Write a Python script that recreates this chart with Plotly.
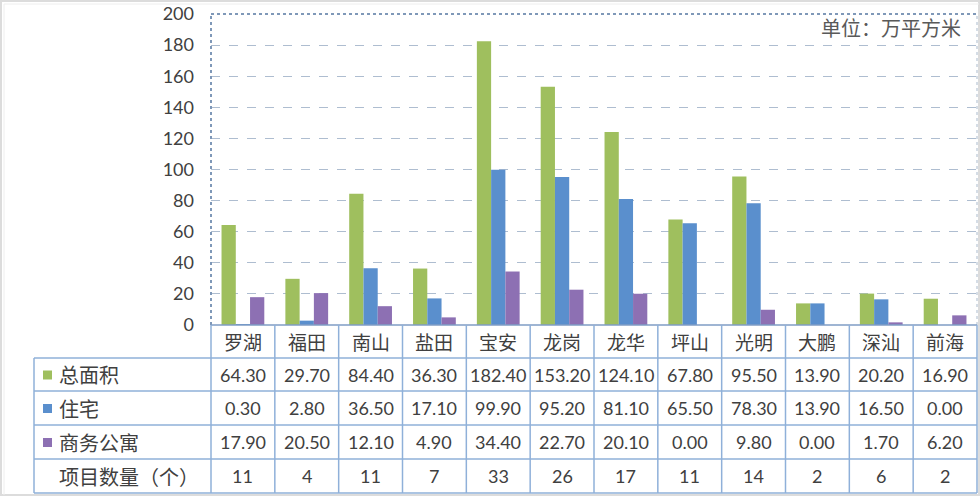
import plotly.graph_objects as go

categories = ["罗湖", "福田", "南山", "盐田", "宝安", "龙岗", "龙华", "坪山", "光明", "大鹏", "深汕", "前海"]
total_area = [64.30, 29.70, 84.40, 36.30, 182.40, 153.20, 124.10, 67.80, 95.50, 13.90, 20.20, 16.90]
residential = [0.30, 2.80, 36.50, 17.10, 99.90, 95.20, 81.10, 65.50, 78.30, 13.90, 16.50, 0.00]
commercial_apt = [17.90, 20.50, 12.10, 4.90, 34.40, 22.70, 20.10, 0.00, 9.80, 0.00, 1.70, 6.20]
project_count = [11, 4, 11, 7, 33, 26, 17, 11, 14, 2, 6, 2]
series_names = ["总面积", "住宅", "商务公寓"]
count_label = "项目数量（个）"
unit_label = "单位：万平方米"
y_ticks = [0, 20, 40, 60, 80, 100, 120, 140, 160, 180, 200]

colors = ["#9fbf5e", "#5a8fcd", "#8d70b3"]
W, H = 980, 496
CJK = "Noto Sans CJK SC"
NUM = "Lato"
TXT = "#404040"
TLINE = "#8fb0d9"


def px(x):
    return x / W


def py(y):
    return 1 - y / H


PL, PR, PT, PB = 211, 977, 14, 325
TL = 34
row_edges = [325, 358, 391, 425, 459, 493]

fig = go.Figure()
series_values = [total_area, residential, commercial_apt]
for name, vals, c in zip(series_names, series_values, colors):
    fig.add_trace(go.Bar(x=categories, y=vals, name=name, marker=dict(color=c, line=dict(width=0)),
                         showlegend=False))

shapes = []
# frame
shapes.append(dict(type="rect", xref="paper", yref="paper", x0=px(1), x1=px(979), y0=py(495), y1=py(1),
                   line=dict(color="#dcdcdc", width=2)))
shapes.append(dict(type="line", xref="paper", yref="paper", x0=px(4), x1=px(979), y0=py(4), y1=py(4),
                   line=dict(color="#eeeeee", width=1)))
shapes.append(dict(type="line", xref="paper", yref="paper", x0=px(4), x1=px(4), y0=py(495), y1=py(4),
                   line=dict(color="#eeeeee", width=1)))
# plot borders (dotted)
border = dict(color="#7f98b8", width=2, dash="dot")
shapes.append(dict(type="line", xref="paper", yref="paper", x0=px(PL), x1=px(PL), y0=py(PB), y1=py(PT), line=border))
shapes.append(dict(type="line", xref="paper", yref="paper", x0=px(PL), x1=px(PR), y0=py(PT), y1=py(PT), line=border))
shapes.append(dict(type="line", xref="paper", yref="paper", x0=px(PR), x1=px(PR), y0=py(PB), y1=py(PT),
                   line=dict(color="#c8d2de", width=1.5, dash="dot")))
# table lines
tl = dict(color=TLINE, width=1.5)
shapes.append(dict(type="line", xref="paper", yref="paper", x0=px(PL), x1=px(PR), y0=py(row_edges[0]),
                   y1=py(row_edges[0]), line=dict(color="#7f9cc4", width=1.5)))
for ry in row_edges[1:]:
    shapes.append(dict(type="line", xref="paper", yref="paper", x0=px(TL), x1=px(PR), y0=py(ry), y1=py(ry), line=tl))
shapes.append(dict(type="line", xref="paper", yref="paper", x0=px(TL), x1=px(TL), y0=py(row_edges[-1]),
                   y1=py(row_edges[1]), line=tl))
shapes.append(dict(type="line", xref="paper", yref="paper", x0=px(PL), x1=px(PL), y0=py(row_edges[-1]),
                   y1=py(row_edges[0]), line=tl))
shapes.append(dict(type="line", xref="paper", yref="paper", x0=px(PR), x1=px(PR), y0=py(row_edges[-1]),
                   y1=py(row_edges[0]), line=tl))
for i in range(len(categories) - 1):
    shapes.append(dict(type="line", xref="x", yref="paper", x0=i + 0.5, x1=i + 0.5, y0=py(row_edges[-1]),
                       y1=py(row_edges[0]), line=tl))
# legend keys
for k, c in enumerate(colors):
    cy = (row_edges[k + 1] + row_edges[k + 2]) / 2
    shapes.append(dict(type="rect", xref="paper", yref="paper", x0=px(43), x1=px(52), y0=py(cy + 5), y1=py(cy - 4),
                       fillcolor=c, line=dict(width=0)))

ann = []
cy0 = (row_edges[0] + row_edges[1]) / 2
for cat in categories:
    ann.append(dict(x=cat, xref="x", y=py(cy0), yref="paper", text=cat, showarrow=False, xanchor="center",
                    yanchor="middle", font=dict(family=CJK, size=19, color=TXT)))
row_values = [[f"{v:.2f}" for v in total_area], [f"{v:.2f}" for v in residential],
              [f"{v:.2f}" for v in commercial_apt], [str(v) for v in project_count]]
row_labels = series_names + [count_label]
for r, (lab, vals) in enumerate(zip(row_labels, row_values)):
    cy = (row_edges[r + 1] + row_edges[r + 2]) / 2
    ann.append(dict(x=px(57), xref="paper", y=py(cy), yref="paper", text=lab, showarrow=False, xanchor="left",
                    yanchor="middle", font=dict(family=CJK, size=20, color=TXT)))
    for cat, v in zip(categories, vals):
        ann.append(dict(x=cat, xref="x", y=py(cy), yref="paper", text=v, showarrow=False, xanchor="center",
                        yanchor="middle", font=dict(family=NUM, size=18, color=TXT)))
ann.append(dict(x=px(963), xref="paper", y=py(27), yref="paper", text=unit_label, showarrow=False,
                xanchor="right", yanchor="middle", font=dict(family=CJK, size=20, color="#595959")))

fig.update_layout(
    width=W, height=H, autosize=False, margin=dict(l=0, r=0, t=0, b=0, pad=0),
    paper_bgcolor="white", plot_bgcolor="white",
    barmode="group", bargap=0.33, bargroupgap=0,
    xaxis=dict(domain=[px(PL), px(PR)], type="category", range=[-0.5, len(categories) - 0.5],
               showticklabels=False, showgrid=False, zeroline=False, showline=False, ticks="",
               automargin=False),
    yaxis=dict(domain=[py(PB), py(PT)], range=[0, 200], tickvals=y_ticks, showgrid=True,
               gridcolor="#aebdd0", griddash="dash", gridwidth=1, zeroline=False, showline=False, ticks="",
               tickfont=dict(family=NUM, size=18, color=TXT), ticklabelstandoff=16, automargin=False),
    shapes=shapes, annotations=ann,
)
fig.write_html("out.html")
